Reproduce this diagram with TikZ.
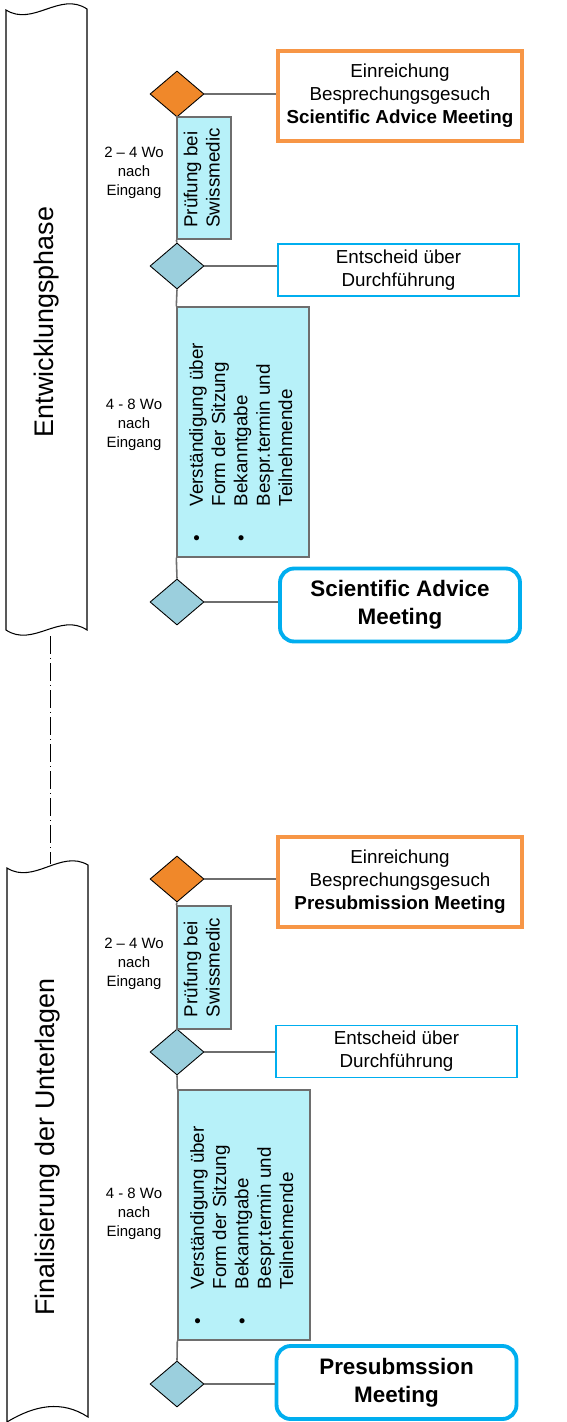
\documentclass[tikz,border=0pt]{standalone}
\usepackage{fontspec}
\setmainfont{Liberation Sans}
\definecolor{sm_orange}{RGB}{240,136,42}
\definecolor{sm_orangeline}{RGB}{247,150,70}
\definecolor{sm_cyan}{RGB}{183,241,249}
\definecolor{sm_teal}{RGB}{155,207,221}
\definecolor{sm_blue}{RGB}{0,174,239}
\definecolor{sm_gray}{RGB}{110,110,110}
\usetikzlibrary{shapes.geometric, positioning}

\begin{document}
\begin{tikzpicture}[x=0.02cm, y=-0.02cm,
    phasebanner/.style={draw=black, line width=0.6pt, fill=white},
    phasetitle/.style={rotate=90, inner sep=0pt, font=\fontsize{15.3}{18}\selectfont},
    gate/.style={diamond, draw=black, line width=0.5pt, inner sep=0pt,
                 minimum width=1.08cm, minimum height=0.92cm},
    gatestart/.style={gate, fill=sm_orange},
    gatestep/.style={gate, fill=sm_teal},
    submitbox/.style={draw=sm_orangeline, line width=2pt, align=center,
                      minimum width=4.88cm, minimum height=1.8cm,
                      font=\fontsize{10.7}{13}\selectfont},
    decisionbox/.style={draw=sm_blue, line width=0.85pt, align=center,
                        minimum width=4.82cm, minimum height=1.02cm,
                        font=\fontsize{10.7}{13}\selectfont},
    meetingbox/.style={draw=sm_blue, line width=2.2pt, rounded corners=8pt,
                       align=center, minimum width=4.8cm, minimum height=1.46cm,
                       font=\fontsize{12.75}{16}\selectfont\bfseries},
    taskbox/.style={draw=sm_gray, fill=sm_cyan, line width=0.8pt, inner sep=0pt,
                    font=\fontsize{10.7}{12.7}\selectfont},
    duration/.style={align=center, inner sep=0pt, font=\fontsize{8.5}{10.8}\selectfont},
    link/.style={draw=sm_gray, line width=0.9pt},
    phaselink/.style={draw=black, line width=0.5pt,
                      dash pattern=on 10pt off 2.4pt on 0.6pt off 2.4pt}]
  \useasboundingbox (0,0) rectangle (567,1422);

  % Phasen
  \draw[phasebanner] (6,10) .. controls (33,27) and (60,-9) .. (87,9)
    -- (87,630) .. controls (60,612) and (33,648) .. (6,630) -- cycle;
  \draw[phasebanner] (7,868) .. controls (34,885) and (61,849) .. (88,865)
    -- (88,1417) .. controls (62,1400) and (35,1405) .. (7,1422) -- cycle;
  \node[phasetitle] (ph1) at (47,322) {Entwicklungsphase};
  \node[phasetitle] (ph2) at (48,1147) {Finalisierung der Unterlagen};
  \coordinate (ph1end) at (50,636);
  \coordinate (ph2start) at (50,864);
  \draw[phaselink] (ph1end) -- (ph2start);

  % Scientific Advice Meeting
  \node[gatestart] (sa_g1) at (177,94) {};
  \node[gatestep] (sa_g2) at (177,266) {};
  \node[gatestep] (sa_g3) at (177,602) {};
  \node[submitbox] (sa_submit) at (400,96)
    {Einreichung\\Besprechungsgesuch\\\textbf{Scientific Advice Meeting}};
  \node[decisionbox] (sa_decide) at (398.5,270) {Entscheid über\\Durchführung};
  \node[meetingbox] (sa_meet) at (400,605) {Scientific Advice\\Meeting};
  \node[taskbox, minimum width=1.08cm, minimum height=2.44cm] (sa_check) at (204,178)
    {\rotatebox{90}{\begin{tabular}{@{}l@{}}Prüfung bei\\Swissmedic\end{tabular}}};
  \node[taskbox, minimum width=2.64cm, minimum height=5cm] (sa_agree) at (243,432)
    {\rotatebox{90}{\begin{tabular}{@{}l@{\hspace{16.5pt}}l@{}}
      \textbullet & Verständigung über\\ & Form der Sitzung\\
      \textbullet & Bekanntgabe\\ & Bespr.termin und\\ & Teilnehmende
     \end{tabular}\hspace{12pt}}};
  \node[duration] (sa_t1) at (134,173) {2 – 4 Wo\\nach\\Eingang};
  \node[duration] (sa_t2) at (134,425) {4 - 8 Wo\\nach\\Eingang};

  \draw[link] (sa_g1.east) -- (sa_g1.east -| sa_submit.west);
  \draw[link] (sa_g2.east) -- (sa_g2.east -| sa_decide.west);
  \draw[link] (sa_g3.east) -- (sa_g3.east -| sa_meet.west);
  \draw[link] (sa_g1.south) -- (sa_check.north west);
  \draw[link] (sa_check.south west) -- (sa_g2.north);
  \draw[link] (sa_g2.south) -- (sa_agree.north west);
  \draw[link] (sa_agree.south west) -- (sa_g3.north);

  % Presubmission Meeting
  \node[gatestart] (ps_g1) at (177,879) {};
  \node[gatestep] (ps_g2) at (177,1052) {};
  \node[gatestep] (ps_g3) at (177,1384) {};
  \node[submitbox] (ps_submit) at (400,882)
    {Einreichung\\Besprechungsgesuch\\\textbf{Presubmission Meeting}};
  \node[decisionbox] (ps_decide) at (396.5,1051.5) {Entscheid über\\Durchführung};
  \node[meetingbox] (ps_meet) at (396.5,1382.5) {Presubmssion\\Meeting};
  \node[taskbox, minimum width=1.08cm, minimum height=2.46cm] (ps_check) at (204,967.5)
    {\rotatebox{90}{\begin{tabular}{@{}l@{}}Prüfung bei\\Swissmedic\end{tabular}}};
  \node[taskbox, minimum width=2.64cm, minimum height=5cm] (ps_agree) at (244,1215)
    {\rotatebox{90}{\begin{tabular}{@{}l@{\hspace{16.5pt}}l@{}}
      \textbullet & Verständigung über\\ & Form der Sitzung\\
      \textbullet & Bekanntgabe\\ & Bespr.termin und\\ & Teilnehmende
     \end{tabular}\hspace{12pt}}};
  \node[duration] (ps_t1) at (134,964) {2 – 4 Wo\\nach\\Eingang};
  \node[duration] (ps_t2) at (134,1214) {4 - 8 Wo\\nach\\Eingang};

  \draw[link] (ps_g1.east) -- (ps_g1.east -| ps_submit.west);
  \draw[link] (ps_g2.east) -- (ps_g2.east -| ps_decide.west);
  \draw[link] (ps_g3.east) -- (ps_g3.east -| ps_meet.west);
  \draw[link] (ps_g1.south) -- (ps_check.north west);
  \draw[link] (ps_check.south west) -- (ps_g2.north);
  \draw[link] (ps_g2.south) -- (ps_agree.north west);
  \draw[link] (ps_agree.south west) -- (ps_g3.north);
\end{tikzpicture}
\end{document}
